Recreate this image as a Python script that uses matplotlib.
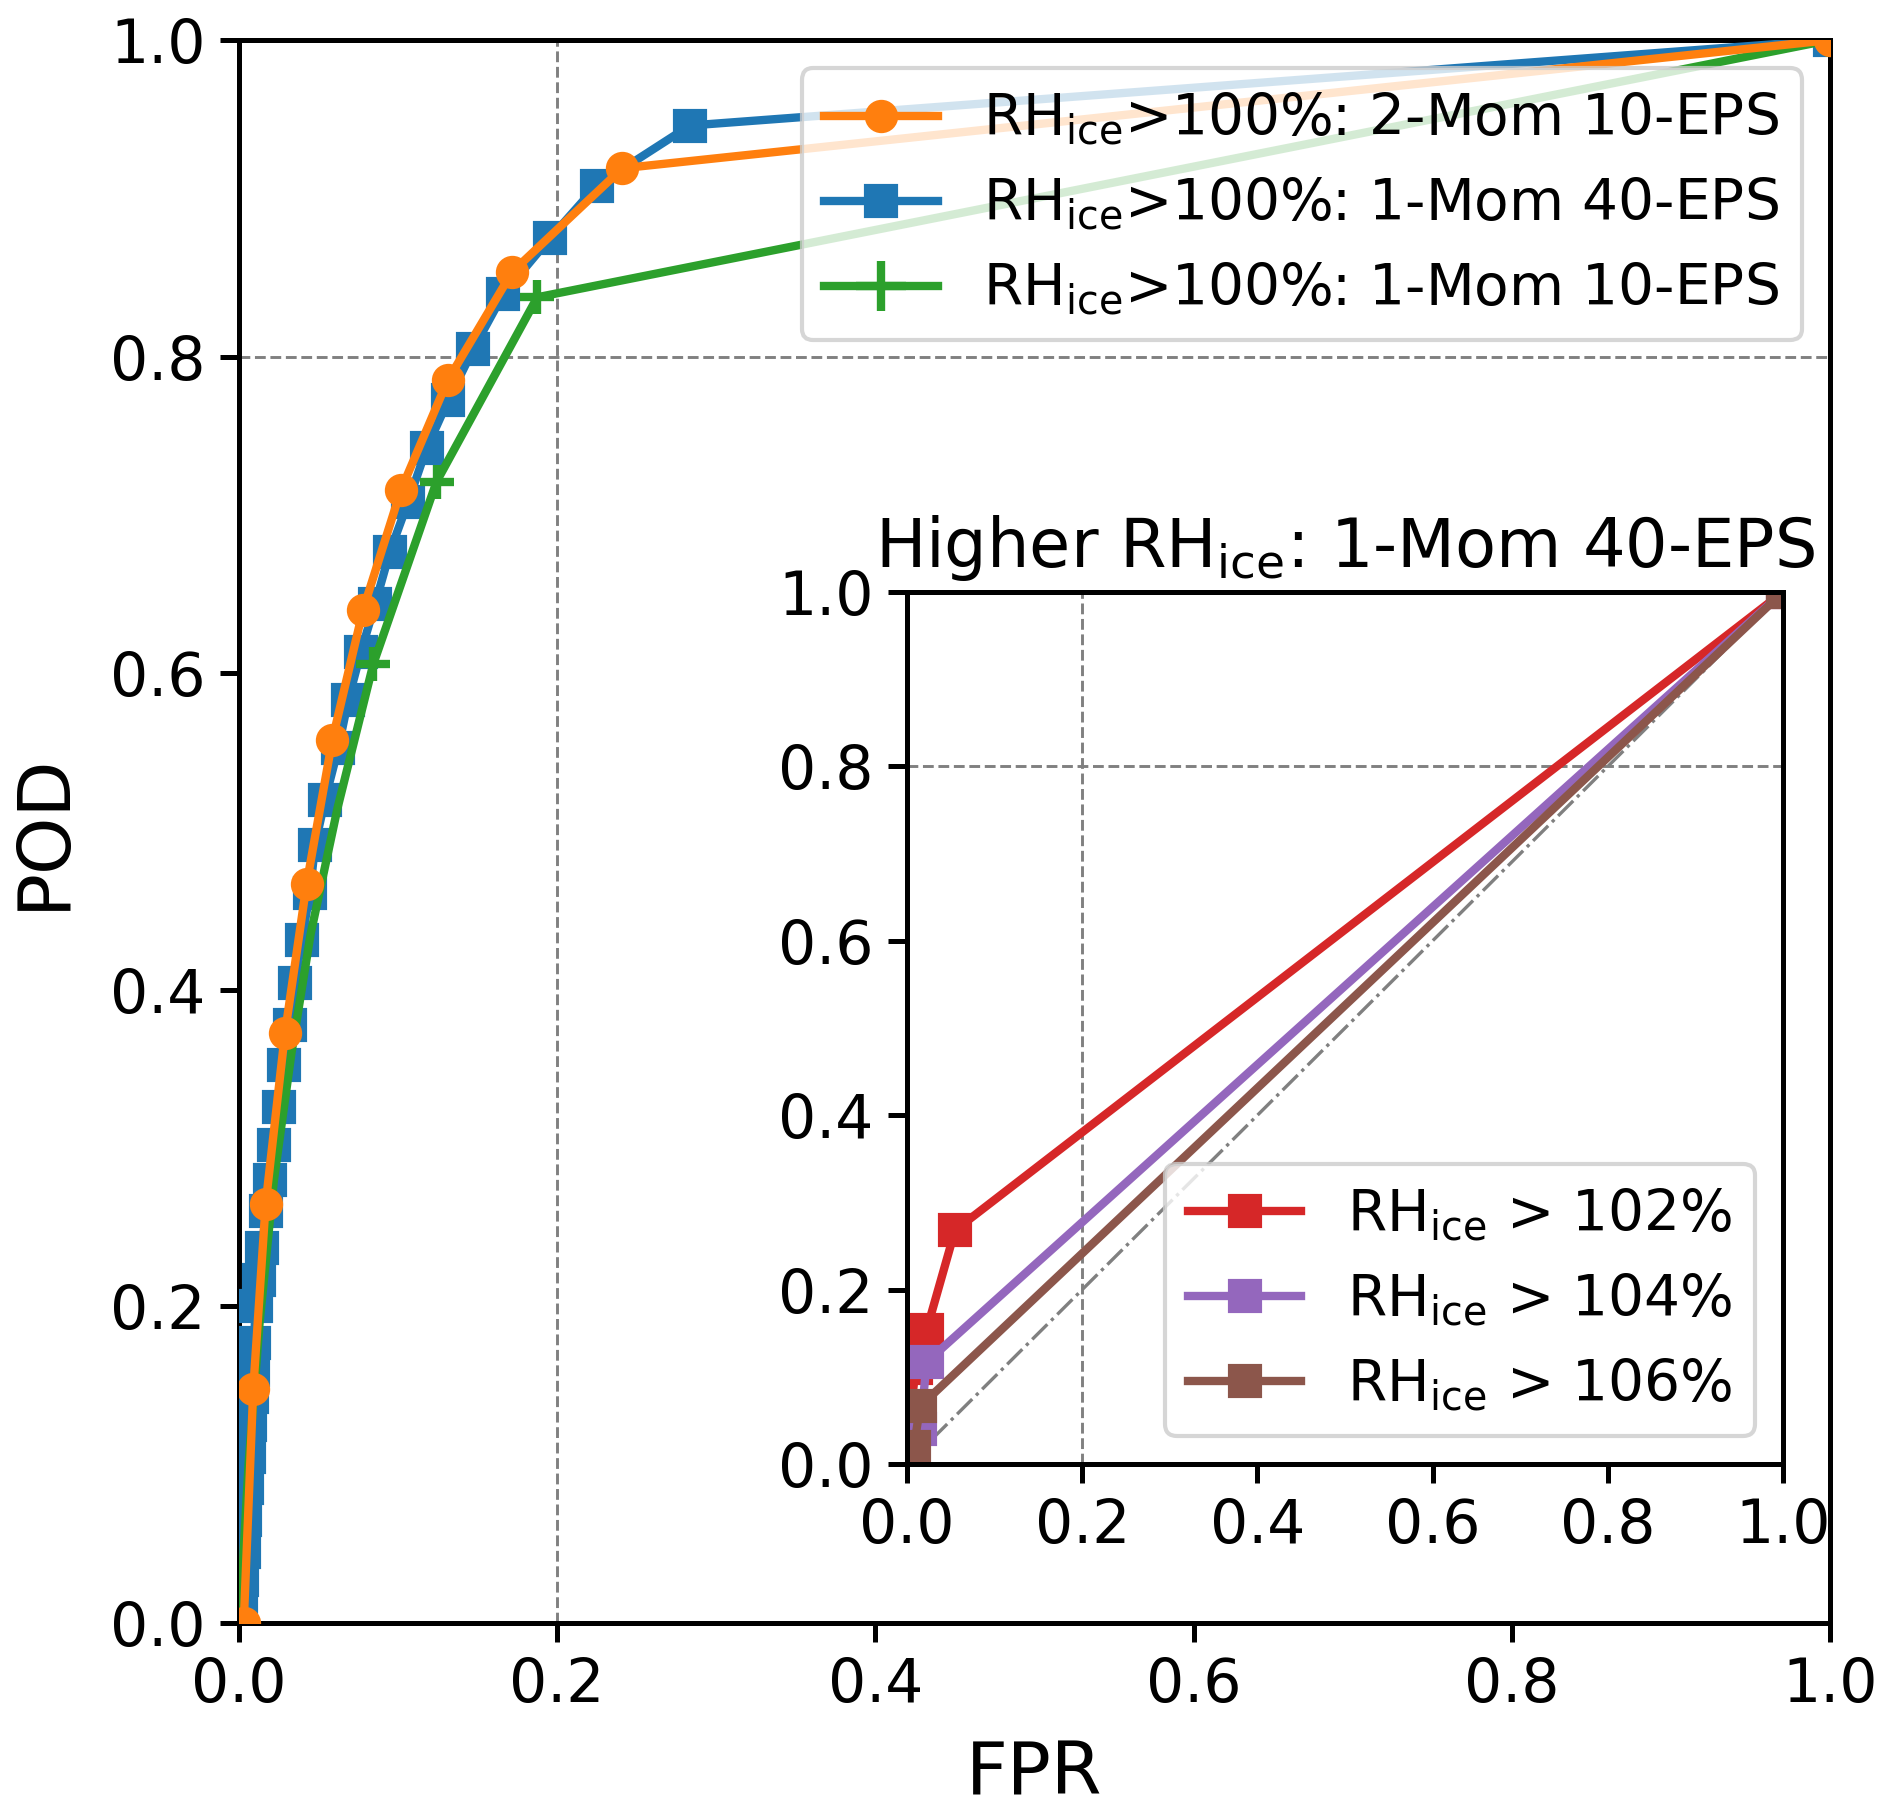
import matplotlib
matplotlib.use("Agg")
import matplotlib.pyplot as plt

plt.rcParams['mathtext.default'] = 'regular'
plt.rcParams['font.family'] = ['DejaVu Sans']

# ---- main panel data ----
fpr_2mom10 = [0.003, 0.009, 0.0168, 0.0289, 0.0425, 0.0587, 0.078, 0.1018, 0.1312, 0.1718, 0.241, 1.0]
pod_2mom10 = [0.0, 0.148, 0.265, 0.3725, 0.4667, 0.558, 0.640, 0.7157, 0.785, 0.8536, 0.919, 1.0]

fpr_1mom40 = [0.0, 0.001, 0.002, 0.003, 0.004, 0.005, 0.006, 0.007, 0.008, 0.009, 0.0094,
              0.0105, 0.0126, 0.0147, 0.0168, 0.0195, 0.022, 0.0254, 0.0285, 0.032, 0.0352,
              0.0394, 0.0446, 0.0478, 0.0541, 0.0624, 0.0687, 0.0767, 0.0857, 0.0949, 0.1064,
              0.1179, 0.1316, 0.1473, 0.1661, 0.1955, 0.2248, 0.2835, 1.0]
pod_1mom40 = [0.0, 0.01, 0.027, 0.045, 0.065, 0.085, 0.105, 0.125, 0.143, 0.16, 0.177,
              0.2, 0.2167, 0.237, 0.26, 0.28, 0.302, 0.326, 0.3525, 0.378, 0.404,
              0.4315, 0.461, 0.4915, 0.52, 0.5526, 0.583, 0.6136, 0.644, 0.6768, 0.7084,
              0.742, 0.7726, 0.8048, 0.8395, 0.8748, 0.908, 0.946, 1.0]

fpr_1mom10 = [0.0, 0.001, 0.006, 0.013, 0.022, 0.033, 0.045, 0.062, 0.0845, 0.1242, 0.1875, 1.0]
pod_1mom10 = [0.0, 0.01, 0.10, 0.19, 0.28, 0.36, 0.435, 0.515, 0.606, 0.721, 0.8375, 1.0]

labels_main = ['RH$_{ice}$>100%: 2-Mom 10-EPS',
               'RH$_{ice}$>100%: 1-Mom 40-EPS',
               'RH$_{ice}$>100%: 1-Mom 10-EPS']

# ---- inset data ----
fpr_102 = [0.0, 0.004, 0.01, 0.0225, 0.0548, 1.0]
pod_102 = [0.0, 0.06, 0.11, 0.154, 0.268, 1.0]
fpr_104 = [0.0, 0.015, 0.0225, 1.0]
pod_104 = [0.0, 0.04, 0.117, 1.0]
fpr_106 = [0.0, 0.008, 0.0148, 1.0]
pod_106 = [0.0, 0.02, 0.066, 1.0]
labels_inset = ['RH$_{ice}$ > 102%', 'RH$_{ice}$ > 104%', 'RH$_{ice}$ > 106%']
inset_title = 'Higher RH$_{ice}$: 1-Mom 40-EPS'

ticks = [0.0, 0.2, 0.4, 0.6, 0.8, 1.0]

TICK_FS = 14.4
LEG_FS = 13.6
LAB_FS = 17.5
TITLE_FS = 16.1

fig = plt.figure(figsize=(1892/300, 1811/300), dpi=300)
ax = fig.add_axes([0.1263, 0.1038, 0.8409, 0.8741])

ax.axvline(0.2, color='gray', lw=0.7, ls='--', zorder=1)
ax.axhline(0.8, color='gray', lw=0.7, ls='--', zorder=1)

ax.plot(fpr_1mom40, pod_1mom40, color='tab:blue', marker='s', lw=2, ms=7,
        label=labels_main[1], zorder=3)
ax.plot(fpr_2mom10, pod_2mom10, color='tab:orange', marker='o', lw=2, ms=7,
        label=labels_main[0], zorder=4)
ax.plot(fpr_1mom10, pod_1mom10, color='tab:green', marker='+', lw=2, ms=8, mew=2,
        markevery=[8, 9, 10, 11], label=labels_main[2], zorder=3.5)

ax.set_xlim(0, 1)
ax.set_ylim(0, 1)
ax.set_xticks(ticks)
ax.set_yticks(ticks)
ax.set_xticklabels([f'{t:.1f}' for t in ticks])
ax.set_yticklabels([f'{t:.1f}' for t in ticks])
ax.tick_params(labelsize=TICK_FS, width=1.2, length=4.5)
for s in ax.spines.values():
    s.set_linewidth(1.2)
ax.set_xlabel('FPR', fontsize=LAB_FS, labelpad=5.5)
ax.set_ylabel('POD', fontsize=LAB_FS, labelpad=7.5)
h, l = ax.get_legend_handles_labels()
order = [1, 0, 2]
leg = ax.legend([h[i] for i in order], [l[i] for i in order], loc='upper right', fontsize=LEG_FS)
gh = leg.legend_handles[2]
gh.set_markevery([1])
gh.set_markersize(12)

# ---- inset ----
ax2 = fig.add_axes([0.4794, 0.1916, 0.4630, 0.4815])
ax2.axvline(0.2, color='gray', lw=0.7, ls='--', zorder=1)
ax2.axhline(0.8, color='gray', lw=0.7, ls='--', zorder=1)
ax2.plot([0, 1], [0, 1], color='gray', lw=0.8, ls='-.', zorder=1)
ax2.plot(fpr_102, pod_102, color='tab:red', marker='s', lw=2, ms=7, label=labels_inset[0])
ax2.plot(fpr_104, pod_104, color='tab:purple', marker='s', lw=2, ms=7, label=labels_inset[1])
ax2.plot(fpr_106, pod_106, color='tab:brown', marker='s', lw=2, ms=7, label=labels_inset[2])
ax2.set_xlim(0, 1)
ax2.set_ylim(0, 1)
ax2.set_xticks(ticks)
ax2.set_yticks(ticks)
ax2.set_xticklabels([f'{t:.1f}' for t in ticks])
ax2.set_yticklabels([f'{t:.1f}' for t in ticks])
ax2.tick_params(labelsize=TICK_FS, width=1.2, length=4.5)
for s in ax2.spines.values():
    s.set_linewidth(1.2)
ax2.set_title(inset_title, fontsize=TITLE_FS)
ax2.legend(loc='lower right', fontsize=LEG_FS)

fig.savefig('out.png', dpi=300)
